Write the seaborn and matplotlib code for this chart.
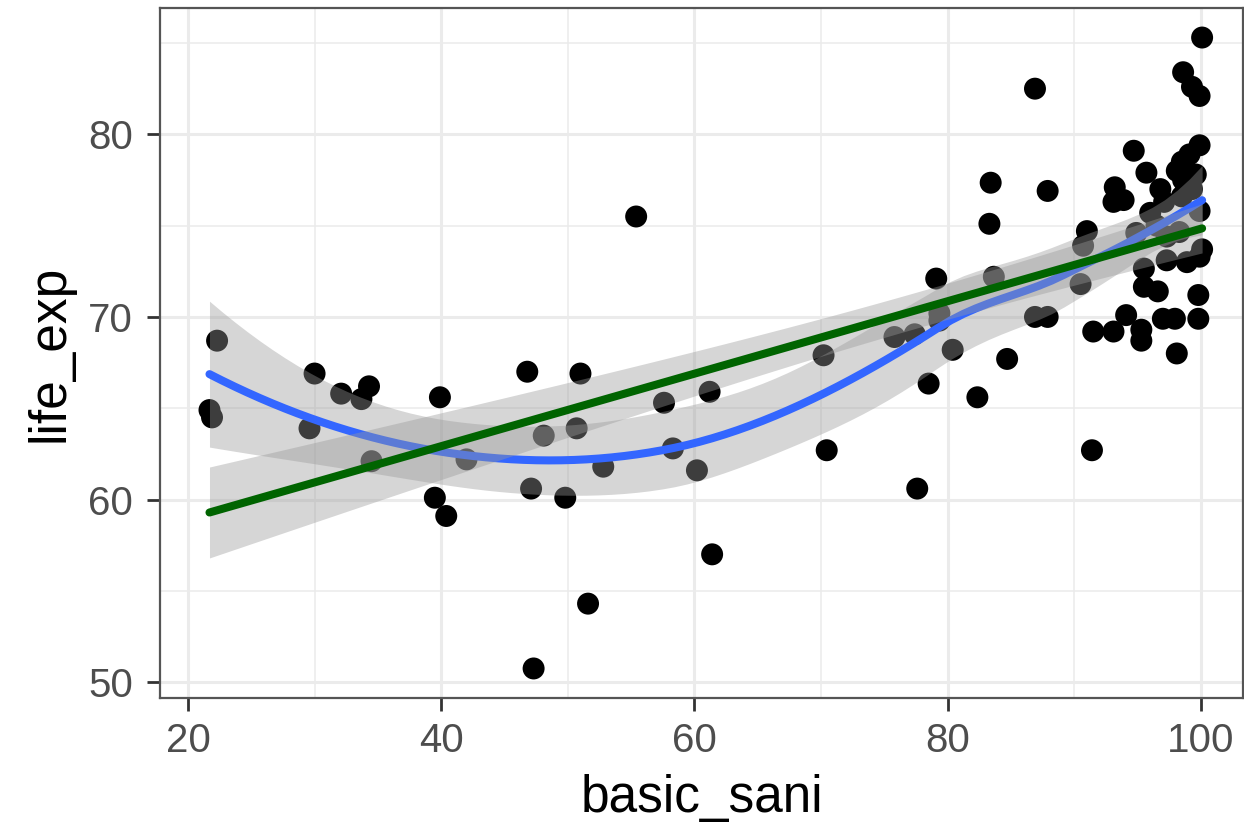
import numpy as np
import pandas as pd
import matplotlib
matplotlib.use("Agg")
import matplotlib.pyplot as plt
import seaborn as sns
from matplotlib.ticker import MultipleLocator

basic_sani = [21.7, 21.9, 22.3, 29.6, 30.0, 32.1, 33.7, 34.3, 34.5, 39.5,
              39.9, 40.4, 42.0, 46.8, 47.1, 47.3, 48.1, 49.8, 50.7, 51.0,
              51.6, 52.8, 55.4, 57.6, 58.3, 60.2, 61.2, 61.4, 70.2, 70.45,
              75.8, 77.4, 77.6, 78.5, 79.1, 79.35, 79.35, 80.4, 82.35, 83.3,
              83.4, 83.65, 84.7, 86.9, 86.9, 87.9, 87.9, 90.5, 90.7, 91.0,
              91.4, 91.5, 93.1, 93.1, 93.9, 93.2, 94.1, 94.7, 94.9, 95.3,
              95.3, 95.5, 95.5, 96.6, 95.7, 96.0, 96.8, 97.1, 97.3, 97.3,
              97.0, 97.95, 98.1, 98.1, 98.3, 98.5, 98.6, 98.6, 98.9, 99.1,
              99.3, 99.8, 99.8, 99.9, 99.9, 99.9, 99.9, 100.1, 100.1, 96.5,
              98.5, 99.3, 99.6, 98.8]
life_exp = [64.9, 64.5, 68.7, 63.9, 66.9, 65.8, 65.5, 66.2, 62.1, 60.1,
            65.6, 59.1, 62.2, 67.0, 60.6, 50.75, 63.5, 60.1, 63.9, 66.9,
            54.3, 61.8, 75.5, 65.3, 62.8, 61.6, 65.9, 57.0, 67.9, 62.7,
            68.9, 69.05, 60.6, 66.35, 72.1, 70.2, 69.8, 68.2, 65.6, 75.1,
            77.35, 72.2, 67.7, 70.0, 82.5, 76.9, 70.0, 71.8, 73.9, 74.7,
            62.7, 69.2, 69.2, 76.3, 76.4, 77.1, 70.1, 79.1, 74.6, 69.3,
            68.7, 72.65, 71.65, 71.4, 77.9, 75.7, 77.0, 76.3, 74.4, 73.1,
            69.9, 69.9, 68.0, 78.0, 74.65, 78.5, 77.5, 83.4, 73.0, 78.9,
            82.6, 71.2, 69.9, 75.8, 73.3, 79.4, 82.1, 73.7, 85.3, 75.0,
            76.6, 77.0, 77.8, 77.3]

df = pd.DataFrame({"basic_sani": basic_sani, "life_exp": life_exp})


def t975(d):
    z = 1.959964
    return z + (z**3 + z) / (4 * d) + (5 * z**5 + 16 * z**3 + 3 * z) / (96 * d**2)


def loess(x, y, xg, span=0.75, cell=0.2):
    x = np.asarray(x, float)
    y = np.asarray(y, float)
    n = len(x)
    q = int(np.floor(n * span))

    def rows(x0):
        d = np.abs(x - x0)
        dmax = np.sort(d)[q - 1]
        w = np.clip(1 - (d / dmax) ** 3, 0, None) ** 3
        X = np.column_stack([np.ones(n), x - x0, (x - x0) ** 2])
        XtW = X.T * w
        B = np.linalg.solve(XtW @ X, XtW)
        return B[0], B[1]

    # kd-tree vertices (1-D), as in loess surface="interpolate"
    xs = np.sort(x)
    fc = int(np.floor(n * span * cell))
    rng = xs[-1] - xs[0]
    verts = {xs[0] - 0.005 * rng, xs[-1] + 0.005 * rng}

    def build(l, u):
        if u - l + 1 <= fc:
            return
        m = (l + u) // 2
        verts.add((xs[m] + xs[m + 1]) / 2)
        build(l, m)
        build(m + 1, u)

    build(0, n - 1)
    V = np.array(sorted(verts))
    VL, VS = zip(*[rows(v) for v in V])
    VL = np.array(VL)
    VS = np.array(VS)

    def interp(pts):
        out = []
        for p in pts:
            i = min(max(np.searchsorted(V, p) - 1, 0), len(V) - 2)
            h = V[i + 1] - V[i]
            t = (p - V[i]) / h
            h00 = 2 * t**3 - 3 * t**2 + 1
            h10 = t**3 - 2 * t**2 + t
            h01 = -2 * t**3 + 3 * t**2
            h11 = t**3 - t**2
            out.append(h00 * VL[i] + h10 * h * VS[i] + h01 * VL[i + 1] + h11 * h * VS[i + 1])
        return np.array(out)

    L = interp(x)
    Lg = interp(xg)
    r = y - L @ y
    M = np.eye(n) - L
    M = M.T @ M
    d1 = np.trace(M)
    d2 = np.trace(M @ M)
    s = np.sqrt(np.sum(r**2) / d1)
    fit = Lg @ y
    se = s * np.sqrt(np.sum(Lg**2, axis=1))
    t = t975(d1**2 / d2)
    return fit, fit - t * se, fit + t * se


def lm_band(x, y, xg):
    x = np.asarray(x, float)
    y = np.asarray(y, float)
    n = len(x)
    X = np.column_stack([np.ones(n), x])
    beta, *_ = np.linalg.lstsq(X, y, rcond=None)
    res = y - X @ beta
    s2 = np.sum(res**2) / (n - 2)
    XtXi = np.linalg.inv(X.T @ X)
    G = np.column_stack([np.ones(len(xg)), xg])
    fit = G @ beta
    se = np.sqrt(s2 * np.einsum("ij,jk,ik->i", G, XtXi, G))
    t = t975(n - 2)
    return fit - t * se, fit + t * se


sns.set_style("white")
plt.rcParams["font.family"] = ["Liberation Sans", "DejaVu Sans"]

fig = plt.figure(figsize=(12.44, 8.32), dpi=100)
ax = fig.add_axes([0.1286, 0.161, 0.8706, 0.829])

sns.scatterplot(data=df, x="basic_sani", y="life_exp", color="black",
                s=250, edgecolor="none", linewidth=0, ax=ax, zorder=2)

xg = np.linspace(min(basic_sani), max(basic_sani), 80)
fit, lo, hi = loess(basic_sani, life_exp, xg)
ax.fill_between(xg, lo, hi, color=(0.6, 0.6, 0.6, 0.4), linewidth=0, zorder=3)
sns.lineplot(x=xg, y=fit, color="#3366FF", linewidth=5.8, ax=ax, zorder=4)

llo, lhi = lm_band(basic_sani, life_exp, xg)
ax.fill_between(xg, llo, lhi, color=(0.6, 0.6, 0.6, 0.4), linewidth=0, zorder=5)
sns.regplot(data=df, x="basic_sani", y="life_exp", scatter=False, ci=None,
            truncate=True, color="#006400",
            line_kws={"linewidth": 5.8, "zorder": 6}, ax=ax)

ax.set_xlim(17.79, 103.33)
ax.set_ylim(49.13, 86.9)
ax.xaxis.set_major_locator(MultipleLocator(20))
ax.xaxis.set_minor_locator(MultipleLocator(10))
ax.yaxis.set_major_locator(MultipleLocator(10))
ax.yaxis.set_minor_locator(MultipleLocator(5))
ax.grid(which="major", color="#EBEBEB", linewidth=2.2, zorder=0)
ax.grid(which="minor", color="#EBEBEB", linewidth=1.1, zorder=0)
ax.set_axisbelow(True)
for sp in ax.spines.values():
    sp.set_color("#555555")
    sp.set_linewidth(1.6)
ax.tick_params(which="major", direction="out", length=9.5, width=2,
               color="#333333", labelsize=29, labelcolor="#4D4D4D",
               bottom=True, left=True)
ax.tick_params(axis="x", pad=8)
ax.tick_params(axis="y", pad=10)
ax.tick_params(which="minor", length=0)
ax.set_xlabel("basic_sani", fontsize=37, color="black", labelpad=10)
ax.set_ylabel("life_exp", fontsize=37, color="black", labelpad=10)

fig.savefig("out.png", dpi=100)
